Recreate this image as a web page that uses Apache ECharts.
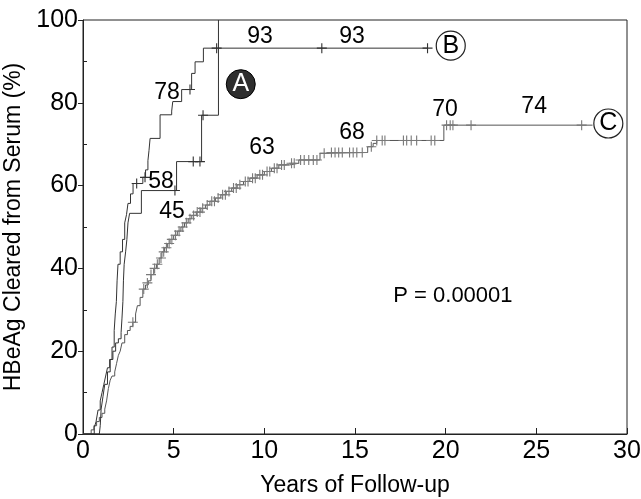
<!DOCTYPE html>
<html>
<head>
<meta charset="utf-8">
<script src="https://cdn.jsdelivr.net/npm/echarts@6/dist/echarts.min.js"></script>
<style>
html, body { margin: 0; padding: 0; background: #fff; }
#chart { width: 641px; height: 499px; }
</style>
</head>
<body>
<div id="chart"></div>
<script>
// Kaplan-Meier steps [years, %]
const curveA = [[0,0],[0.9,0],[0.95,2],[1.0,6],[1.1,9],[1.2,12],[1.35,15],[1.5,18],[1.65,20],[1.8,22],[1.95,23],[2.1,24.5],[2.15,28],[2.2,32],[2.23,37],[2.27,41],[2.35,44],[2.42,47],[2.48,51],[2.57,53.3],[3.22,58.8],[5.16,65.8],[6.54,77],[7.47,100]];
const curveB = [[0,0],[0.62,1.5],[0.72,3],[0.83,5.8],[0.95,8],[1.05,10],[1.15,12],[1.25,14],[1.35,16],[1.47,18],[1.6,21],[1.72,25],[1.78,29],[1.84,32],[1.88,37],[1.93,41],[2.05,44],[2.18,47],[2.3,51],[2.4,53],[2.48,55.7],[2.62,58],[2.76,60.5],[3.3,62],[3.45,63.8],[3.58,66],[3.64,68.5],[3.7,71.4],[4.25,77.1],[4.89,78],[4.95,80.3],[5.44,83.2],[5.99,87.1],[6.18,89.9],[6.64,93.2],[19.0,93.2]];
const curveC = [[0,0],[0.45,1],[0.6,2],[0.75,3],[0.9,4],[1.05,5],[1.2,6],[1.3,8],[1.4,11],[1.5,13],[1.6,14],[1.75,15],[1.85,17],[1.95,19],[2.05,20],[2.15,22],[2.3,24],[2.45,25],[2.6,26],[2.75,27],[2.9,29],[3.0,31],[3.15,33],[3.3,35],[3.45,36],[3.6,37],[3.75,38.5],[3.9,40],[4.05,41],[4.2,42.5],[4.35,44],[4.5,45],[4.65,46],[4.8,47],[5.0,48],[5.2,49],[5.4,50],[5.6,51],[5.8,52],[6.0,52.8],[6.25,53.6],[6.5,54.5],[6.75,55.3],[7.0,56.2],[7.3,57],[7.6,57.8],[7.9,58.6],[8.2,59.4],[8.5,60.2],[8.85,61],[9.2,61.8],[9.6,62.6],[10.0,63.4],[10.4,64.2],[10.8,65],[11.4,65.4],[11.9,66.2],[13.07,67.8],[13.4,68],[15.7,69.4],[16.0,70.2],[16.2,70.9],[19.9,74.6],[28.1,74.6]];

// censored observations [years, %]
const censorA = [[5.07,58.8],[6.08,65.8],[6.45,65.8],[6.62,77]];
const censorB = [[2.96,60.5],[3.42,62],[5.9,83.2],[7.37,93.2],[13.17,93.2],[19.0,93.2]];
const censorC = [[2.75,27],[3.35,35],[3.55,36.5],[3.75,38.5],[3.95,40],[4.1,41],[4.3,42.5],[4.45,44],[4.6,45],[4.75,46],[4.9,47],[5.1,48],[5.3,49],[5.5,50],[5.7,51],[5.9,52],[6.1,52.8],[6.3,53.6],[6.45,53.6],[6.6,54.5],[6.85,55.3],[7.1,56.2],[7.25,56.2],[7.45,57],[7.7,57.8],[7.85,57.8],[8.05,58.6],[8.3,59.4],[8.45,59.4],[8.65,60.2],[8.95,61],[9.1,61],[9.35,61.8],[9.5,61.8],[9.75,62.6],[9.9,62.6],[10.15,63.4],[10.3,63.4],[10.55,64.2],[10.7,64.2],[10.95,65],[11.1,65],[11.5,65.4],[11.65,65.4],[12.0,66.2],[12.2,66.2],[12.45,66.2],[12.7,66.2],[12.9,66.2],[13.3,67.8],[13.7,68],[13.9,68],[14.1,68],[14.3,68],[14.7,68],[14.9,68],[15.1,68],[15.4,68],[15.9,69.4],[16.2,70.9],[16.5,70.9],[16.65,70.9],[17.67,70.9],[17.85,70.9],[18.1,70.9],[18.4,70.9],[19.2,70.9],[19.4,70.9],[20.05,74.6],[20.25,74.6],[20.4,74.6],[21.4,74.6],[27.5,74.6]];

// annotations [text, years, %]
const curveLabels = [['93',9.76,95.9],['93',14.84,95.9],['78',4.63,82.4],['58',4.3,60.9],['45',4.91,53.6],['63',9.87,69.1],['68',14.84,72.9],['70',19.97,78.3],['74',24.88,79.0]];
const groupMarks = [['A',8.7,84.5],['B',20.28,93.8],['C',28.97,75.0]];
const pValue = ['P = 0.00001',20.4,33.3];

const xTicks = [0,5,10,15,20,25,30];
const yTicks = [0,20,40,60,80,100];
const yMinor = [10,30,50,70,90];

const font = 'Liberation Sans, Arial, Helvetica, sans-serif';
const plus = 'path://M4,0H5V9H4Z M0,4H9V5H0Z';

let chart = echarts.init(document.getElementById('chart'));

function stepLine(data, color) {
    return {
        type: 'line', data: data, step: 'end', showSymbol: false, silent: true,
        lineStyle: { color: color, width: 1 }, z: 3
    };
}
function censors(data, color, size) {
    return {
        type: 'scatter', data: data, symbol: plus, symbolSize: size, silent: true,
        itemStyle: { color: color, opacity: 1 }, z: 4
    };
}

chart.setOption({
    animation: false,
    grid: {
        left: 83, right: 14, top: 20, bottom: 65, containLabel: false, outerBoundsMode: 'none',
        show: true, borderColor: '#222', borderWidth: 1
    },
    xAxis: {
        type: 'value', min: xTicks[0], max: xTicks[xTicks.length - 1], interval: 5,
        name: 'Years of Follow-up', nameLocation: 'middle', nameGap: 40,
        nameTextStyle: { fontFamily: font, fontSize: 23, color: '#000' },
        axisLine: { lineStyle: { color: '#222', width: 1 } },
        axisTick: { inside: true, length: 6, lineStyle: { color: '#222' } },
        axisLabel: { fontFamily: font, fontSize: 25, color: '#000', margin: 5 },
        splitLine: { show: false }
    },
    yAxis: [{
        type: 'value', min: yTicks[0], max: yTicks[yTicks.length - 1], interval: 20,
        name: 'HBeAg Cleared from Serum (%)', nameLocation: 'middle', nameGap: 51,
        nameTextStyle: { fontFamily: font, fontSize: 23, color: '#000' },
        axisLine: { show: true, lineStyle: { color: '#222', width: 1 } },
        axisTick: { show: true, inside: false, length: 5, lineStyle: { color: '#222' } },
        axisLabel: { fontFamily: font, fontSize: 25, color: '#000', margin: 5 },
        splitLine: { show: false }
    }, {
        type: 'value', min: yTicks[0], max: yTicks[yTicks.length - 1], position: 'left',
        axisLine: { show: false },
        axisTick: { show: true, inside: true, length: 4, customValues: yMinor, lineStyle: { color: '#222' } },
        axisLabel: { show: false },
        splitLine: { show: false }
    }],
    series: [
        stepLine(curveC, '#555'),
        stepLine(curveA, '#333'),
        stepLine(curveB, '#333'),
        censors(censorC, '#7a7a7a', 10),
        censors(censorA, '#333', 10),
        censors(censorB, '#333', 10),
        {
            type: 'scatter', silent: true, symbolSize: 0, z: 6,
            itemStyle: { opacity: 1 },
            data: curveLabels.map(d => ({ name: d[0], value: [d[1], d[2]] })),
            label: { show: true, position: 'inside', formatter: '{b}', fontFamily: font, fontSize: 23, color: '#000' }
        },
        {
            type: 'scatter', silent: true, symbolSize: 0, z: 6,
            itemStyle: { opacity: 1 },
            data: [{ name: pValue[0], value: [pValue[1], pValue[2]] }],
            label: { show: true, position: 'inside', formatter: '{b}', fontFamily: font, fontSize: 22, color: '#000' }
        },
        {
            type: 'scatter', silent: true, symbol: 'circle', symbolSize: 29, z: 7,
            data: groupMarks.map(d => ({
                name: d[0], value: [d[1], d[2]],
                itemStyle: d[0] === 'A'
                    ? { color: '#2e2e2e', borderColor: '#000', borderWidth: 1, opacity: 1 }
                    : { color: '#fff', borderColor: '#222', borderWidth: 1.2, opacity: 1 },
                label: { color: d[0] === 'A' ? '#fff' : '#000' }
            })),
            label: { show: true, position: 'inside', formatter: '{b}', fontFamily: font, fontSize: 25 }
        }
    ]
});
window.addEventListener('resize', () => { chart.resize() });
</script>
</body>
</html>
